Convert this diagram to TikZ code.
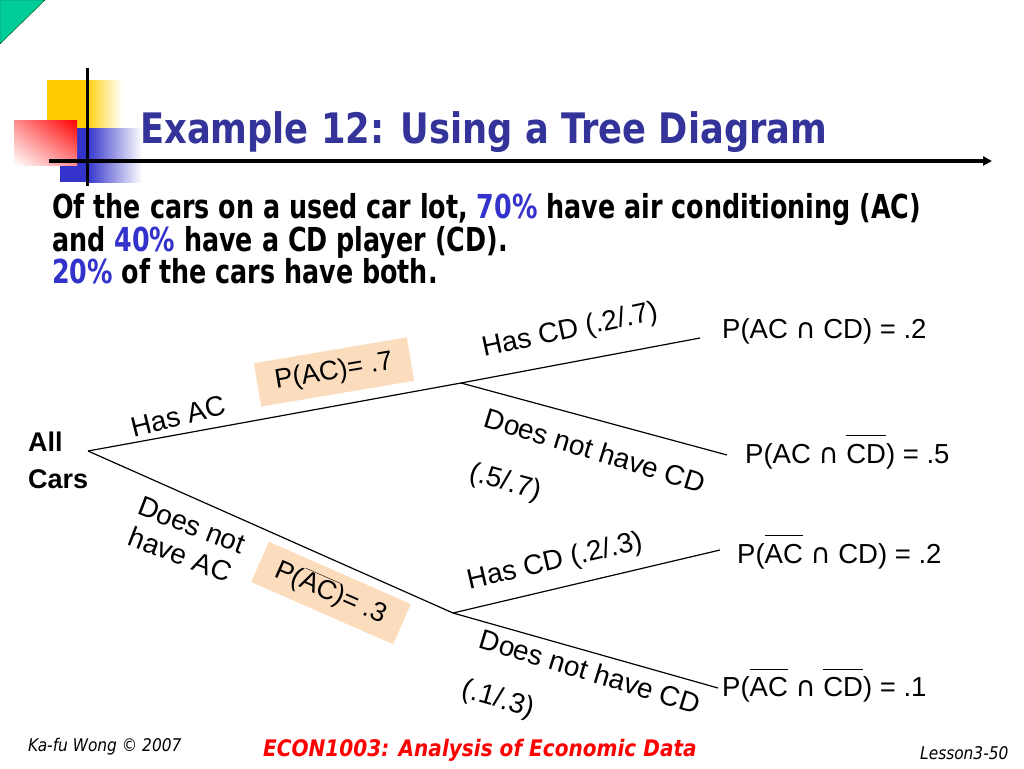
\documentclass[tikz,border=0pt]{standalone}
\usepackage{fontspec}
\usepackage{xcolor}
\setmainfont{Liberation Sans}
\newfontfamily\tahoma[FakeStretch=0.84]{DejaVu Sans}
\newfontfamily\tahomabody[FakeStretch=0.77]{DejaVu Sans}
\newfontfamily\comic[FakeStretch=0.88]{DejaVu Sans}
\newfontfamily\symf{DejaVu Sans}
\usetikzlibrary{arrows.meta,shadings}

\definecolor{titleblue}{RGB}{51,51,153}
\definecolor{pctblue}{RGB}{51,51,204}
\definecolor{peach}{RGB}{251,221,190}
\definecolor{slidegreen}{RGB}{0,204,153}
\definecolor{slideyellow}{RGB}{255,204,0}
\definecolor{slideblue}{RGB}{51,51,204}

\newcommand{\olin}[1]{$\overline{\mbox{#1\rule{0pt}{0.95em}}}$}
\newcommand{\olint}[1]{$\overline{\mbox{#1}}$}
\newcommand{\capsym}{{\symf ∩}}

\tikzset{
  branch/.style={black, line width=1.2pt},
  lbl/.style={font=\fontsize{28}{32}\selectfont, inner sep=0pt},
  endlbl/.style={font=\fontsize{27.5}{32}\selectfont, inner sep=0pt, anchor=west},
  probbox/.style={fill=peach, font=\fontsize{27}{32}\selectfont, minimum width=155pt, minimum height=44pt, inner sep=0pt},
  bodytxt/.style={font=\tahomabody\bfseries\fontsize{33}{33}\selectfont, anchor=base west, inner sep=0pt}
}

\begin{document}
\begin{tikzpicture}[x=1pt, y=-1pt]
                \fill[white] (0,0) rectangle (1024,768);
                \useasboundingbox (0,0) rectangle (1024,768);

                %% corner decoration
                \filldraw[fill=slidegreen, draw=black!70!green] (0,0) -- (45,0) -- (0,44) -- cycle;
                \fill[slideyellow] (47,80) rectangle (85,128);
                \shade[left color=slideyellow, right color=white] (85,80) rectangle (122,128);
                \fill[slideblue] (60,128) rectangle (87,182);
                \shade[left color=slideblue, right color=white] (87,128) rectangle (142,182);
                \shade[upper right=red, upper left=red!45!white, lower right=red!45!white, lower left=white] (14,120) rectangle (77,165);
                \draw[black, line width=3pt] (87,68) -- (87,186);
                \draw[black, line width=4pt, -{Triangle[length=9pt, width=9pt]}] (49,161) -- (992,161);

                %% title and text
                \node[font=\tahoma\bfseries\fontsize{42}{50}\selectfont, text=titleblue, anchor=base west, inner sep=0pt] (title) at (140,143) {Example 12: Using a Tree Diagram};
                \node[bodytxt] (line1) at (52,218) {Of the cars on a used car lot, \textcolor{pctblue}{70\%} have air conditioning (AC)};
                \node[bodytxt] (line2) at (52,251) {and \textcolor{pctblue}{40\%} have a CD player (CD).};
                \node[bodytxt] (line3) at (52,283) {\textcolor{pctblue}{20\%} of the cars have both.};

                %% tree
                \node[font=\bfseries\fontsize{27}{37}\selectfont, align=left, anchor=west, inner sep=0pt] (allcars) at (28,460) {All\\Cars};
                \coordinate (root) at (88,451);
                \coordinate (ac)   at (461,383);
                \coordinate (nac)  at (453,613);
                \coordinate (e1)   at (700,338);
                \coordinate (e2)   at (727,455);
                \coordinate (e3)   at (720,550);
                \coordinate (e4)   at (718,688);

                \draw[branch] (root) -- (ac);
                \draw[branch] (root) -- (nac);
                \draw[branch] (ac) -- (e1);
                \draw[branch] (ac) -- (e2);
                \draw[branch] (nac) -- (e3);
                \draw[branch] (nac) -- (e4);

                \node[lbl, rotate=14] (hasac) at (178,416) {Has AC};
                \node[probbox, rotate=9.6] (pac) at (334,372) {P(AC)= .7};
                \node[lbl, rotate=-21, align=center] (noac) at (186,540) {Does not\\have AC};
                \node[probbox, rotate=-23.7] (pnac) at (331,593) {P(\olint{AC})= .3};

                \node[lbl, rotate=12] (hascd1) at (570,331) {Has CD (.2/.7)};
                \node[lbl, rotate=-17] (nocd1) at (595,450) {Does not have CD};
                \node[lbl, rotate=-15] (q1) at (505,483) {(.5/.7)};
                \node[lbl, rotate=13] (hascd2) at (555,562) {Has CD (.2/.3)};
                \node[lbl, rotate=-17] (nocd2) at (590,671) {Does not have CD};
                \node[lbl, rotate=-16] (q2) at (498,700) {(.1/.3)};

                \node[endlbl] (p1) at (722,331) {P(AC \capsym{} CD) = .2};
                \node[endlbl] (p2) at (745,452) {P(AC \capsym{} \olin{CD}) = .5};
                \node[endlbl] (p3) at (737,552) {P(\olin{AC} \capsym{} CD) = .2};
                \node[endlbl] (p4) at (722,685) {P(\olin{AC} \capsym{} \olin{CD}) = .1};

                %% footer
                \node[font=\comic\itshape\fontsize{17.5}{20}\selectfont, anchor=base west, inner sep=0pt] (author) at (28,751) {Ka-fu Wong \textcopyright{} 2007};
                \node[font=\comic\bfseries\itshape\fontsize{22.8}{26}\selectfont, text=red, anchor=base west, inner sep=0pt] (course) at (263,756) {ECON1003: Analysis of Economic Data};
                \node[font=\comic\itshape\fontsize{17.5}{20}\selectfont, anchor=base west, inner sep=0pt] (lesson) at (920,759) {Lesson3-50};
\end{tikzpicture}
\end{document}
